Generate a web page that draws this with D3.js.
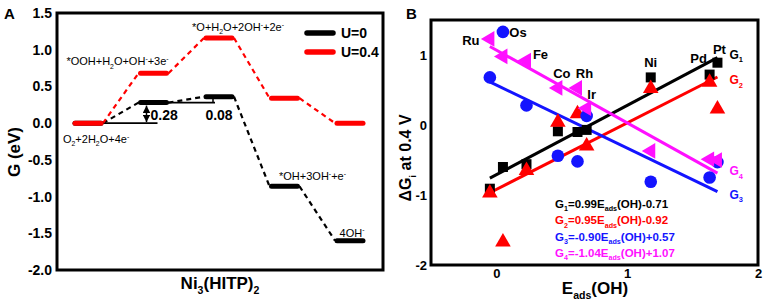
<!DOCTYPE html>
<html>
<head>
<meta charset="utf-8">
<script src="https://cdn.jsdelivr.net/npm/d3@7"></script>
<style>
  body { margin: 0; background: #fff; }
  text { font-family: Arial, 'Liberation Sans', sans-serif; }
</style>
</head>
<body>
<script>
// ---- panel A data ----
const steps = ['O_2+2H_2O+4e^-', '*OOH+H_2O+OH^-+3e^-', '*O+H_2O+2OH^-+2e^-', '*OH+3OH^-+e^-', '4OH^-'];
const gU0 = [0, 0.28, 0.36, -0.86, -1.60];
const gU04 = [0, 0.68, 1.16, 0.34, 0.0];
const yTicksA = [-2, -1.5, -1, -0.5, 0, 0.5, 1, 1.5];

// ---- panel B data ----
const elements = ['Ru', 'Os', 'Fe', 'Co', 'Rh', 'Ir', 'Ni', 'Pd', 'Pt'];
const eadsOH = [-0.05, 0.05, 0.23, 0.47, 0.62, 0.69, 1.18, 1.63, 1.69];
const g1 = [-0.91, -0.60, -0.56, -0.09, -0.10, -0.07, 0.68, 0.72, 0.89];
const g2 = [-0.97, -1.67, -0.65, 0.04, 0.16, -0.30, 0.52, 0.61, 0.23];
const g3 = [0.68, 1.33, 0.28, -0.44, -0.52, 0.13, -0.81, -0.75, -0.53];
const g4 = [1.23, 0.98, 0.92, 0.53, 0.53, 0.24, -0.37, -0.49, -0.50];
const slopes = [0.99, 0.95, -0.90, -1.04];
const intercepts = [-0.71, -0.92, 0.57, 1.07];
const xTicksB = [0, 1, 2];
const yTicksB = [-2, -1, 0, 1];

const svgWidth = 772;
const svgHeight = 307;
const font = "Arial, 'Liberation Sans', sans-serif";

const svg = d3.select('body')
              .append('svg')
              .attr('width', svgWidth)
              .attr('height', svgHeight);

// text with _x subscripts and ^x superscripts
function rich(sel, str, fs) {
  const parts = str.split(/([_^]\{[^}]*\}|[_^].)/).filter(s => s);
  let shift = 0;
  parts.forEach(p => {
    let kind = null, s = p;
    if (p[0] === '_' || p[0] === '^') { kind = p[0]; s = p.slice(1).replace(/[{}]/g, ''); }
    const target = kind === '_' ? fs * 0.3 : kind === '^' ? -fs * 0.38 : 0;
    sel.append('tspan')
       .attr('dy', target - shift)
       .attr('font-size', kind ? fs * 0.62 : fs)
       .text(s);
    shift = target;
  });
  return sel;
}

// =================== Panel A ===================
const xA = d3.scaleLinear().domain([0, 4]).range([88, 350]);
const yA = d3.scaleLinear().domain([-2, 1.5]).range([270, 13]);
const half = 13;

const gA = svg.append('g');

gA.append('g')
  .attr('transform', 'translate(57,0)')
  .call(d3.axisLeft(yA).tickValues(yTicksA).tickSize(0).tickPadding(5).tickFormat(d => d.toFixed(1)))
  .call(g => g.select('.domain').remove())
  .selectAll('text')
  .attr('font-family', font)
  .attr('font-size', 14)
  .attr('font-weight', 'bold')
  .attr('fill', '#000');

gA.append('rect')
  .attr('x', 57).attr('y', 13)
  .attr('width', 326).attr('height', 257)
  .attr('fill', 'none')
  .attr('stroke', '#000')
  .attr('stroke-width', 3);

svg.append('defs').append('marker')
   .attr('id', 'arr')
   .attr('viewBox', '0 0 10 10')
   .attr('refX', 10).attr('refY', 5)
   .attr('markerWidth', 5).attr('markerHeight', 5)
   .attr('orient', 'auto-start-reverse')
   .append('path')
   .attr('d', 'M0,0 L10,5 L0,10 z')
   .attr('fill', '#000');

// step differences at U=0
gA.append('line')
  .attr('x1', xA(0) + half).attr('x2', xA(1) + 4)
  .attr('y1', yA(gU0[0])).attr('y2', yA(gU0[0]))
  .attr('stroke', '#000').attr('stroke-width', 1.8);
gA.append('line')
  .attr('x1', xA(1) - 7).attr('x2', xA(1) - 7)
  .attr('y1', yA(gU0[0]) - 1).attr('y2', yA(gU0[1]) + 3)
  .attr('stroke', '#000').attr('stroke-width', 1.5)
  .attr('marker-start', 'url(#arr)').attr('marker-end', 'url(#arr)');
gA.append('text')
  .attr('x', xA(1) - 3).attr('y', yA(gU0[0]) - 3)
  .attr('font-size', 14).attr('font-weight', 'bold')
  .text((gU0[1] - gU0[0]).toFixed(2));

gA.append('line')
  .attr('x1', xA(1) + half).attr('x2', xA(2) - 4)
  .attr('y1', yA(gU0[1])).attr('y2', yA(gU0[1]))
  .attr('stroke', '#000').attr('stroke-width', 1.8);
gA.append('line')
  .attr('x1', xA(2) - 6).attr('x2', xA(2) - 6)
  .attr('y1', yA(gU0[1])).attr('y2', yA(gU0[2]))
  .attr('stroke', '#000').attr('stroke-width', 1.5);
gA.append('text')
  .attr('x', xA(2)).attr('y', yA(gU0[1]) + 17)
  .attr('text-anchor', 'middle')
  .attr('font-size', 14).attr('font-weight', 'bold')
  .text((gU0[2] - gU0[1]).toFixed(2));

// dashed connectors and levels
[[gU0, '#000'], [gU04, '#ff0000']].forEach(([vals, color]) => {
  d3.pairs(vals.map((v, i) => [i, v])).forEach(([a, b]) => {
    gA.append('line')
      .attr('x1', xA(a[0]) + half + 2).attr('y1', yA(a[1]))
      .attr('x2', xA(b[0]) - half - 2).attr('y2', yA(b[1]))
      .attr('stroke', color).attr('stroke-width', 2.2)
      .attr('stroke-dasharray', '5,4');
  });
});
[[gU0, '#000'], [gU04, '#ff0000']].forEach(([vals, color]) => {
  gA.selectAll(null)
    .data(vals)
    .enter()
    .append('line')
    .attr('x1', (d, i) => xA(i) - half).attr('x2', (d, i) => xA(i) + half)
    .attr('y1', d => yA(d)).attr('y2', d => yA(d))
    .attr('stroke', color).attr('stroke-width', 5)
    .attr('stroke-linecap', 'round');
});

// state labels
const stepLabelPos = [
  { v: gU0[0], dx: -25, dy: 20, anchor: 'start' },
  { v: gU04[1], dx: -36, dy: -8, anchor: 'middle' },
  { v: gU04[2], dx: 19, dy: -7, anchor: 'middle' },
  { v: gU0[3], dx: 28, dy: -6, anchor: 'middle' },
  { v: gU0[4], dx: 2, dy: -4, anchor: 'middle' }
];
steps.forEach((s, i) => {
  const p = stepLabelPos[i];
  rich(gA.append('text')
         .attr('x', xA(i) + p.dx).attr('y', yA(p.v) + p.dy)
         .attr('text-anchor', p.anchor)
         .attr('font-size', 11), s, 11);
});

// legend
[['U=0', '#000'], ['U=0.4', '#ff0000']].forEach(([t, c], i) => {
  gA.append('line')
    .attr('x1', 307).attr('x2', 333)
    .attr('y1', 33 + i * 19).attr('y2', 33 + i * 19)
    .attr('stroke', c).attr('stroke-width', 5.5)
    .attr('stroke-linecap', 'round');
  gA.append('text')
    .attr('x', 341).attr('y', 38 + i * 19)
    .attr('font-size', 14).attr('font-weight', 'bold')
    .text(t);
});

rich(gA.append('text')
       .attr('transform', 'translate(20,152) rotate(-90)')
       .attr('text-anchor', 'middle')
       .attr('font-weight', 'bold'), 'G (eV)', 17);
rich(gA.append('text')
       .attr('x', 220).attr('y', 289)
       .attr('text-anchor', 'middle')
       .attr('font-weight', 'bold'), 'Ni_3(HITP)_2', 17);
gA.append('text')
  .attr('x', 4).attr('y', 19)
  .attr('font-size', 15).attr('font-weight', 'bold')
  .text('A');

// =================== Panel B ===================
const xB = d3.scaleLinear().domain([-0.5, 2]).range([431, 758]);
const yB = d3.scaleLinear().domain([-2, 1.5]).range([265, 20]);
const gB = svg.append('g');

gB.append('g')
  .attr('transform', 'translate(0,265)')
  .call(d3.axisBottom(xB).tickValues(xTicksB).tickSize(0).tickPadding(4).tickFormat(d3.format('d')))
  .call(g => g.select('.domain').remove())
  .selectAll('text')
  .attr('font-family', font).attr('font-size', 13)
  .attr('font-weight', 'bold').attr('fill', '#000');
gB.append('g')
  .attr('transform', 'translate(431,0)')
  .call(d3.axisLeft(yB).tickValues(yTicksB).tickSize(0).tickPadding(4).tickFormat(d => String(d)))
  .call(g => g.select('.domain').remove())
  .selectAll('text')
  .attr('font-family', font).attr('font-size', 13)
  .attr('font-weight', 'bold').attr('fill', '#000');

gB.append('rect')
  .attr('x', 431).attr('y', 20)
  .attr('width', 327).attr('height', 245)
  .attr('fill', 'none')
  .attr('stroke', '#000')
  .attr('stroke-width', 3);

const colors = ['#000000', '#ff0000', '#1414ff', '#ff10ff'];
const seriesB = [g1, g2, g3, g4];
const xExt = d3.extent(eadsOH);

// fitted lines
slopes.forEach((m, k) => {
  gB.append('line')
    .attr('x1', xB(xExt[0])).attr('y1', yB(m * xExt[0] + intercepts[k]))
    .attr('x2', xB(xExt[1])).attr('y2', yB(m * xExt[1] + intercepts[k]))
    .attr('stroke', colors[k]).attr('stroke-width', 3);
});

const symbols = [
  { type: d3.symbolSquare, size: 100, rot: 0 },
  { type: d3.symbolTriangle, size: 105, rot: 0 },
  { type: d3.symbolCircle, size: 125, rot: 0 },
  { type: d3.symbolTriangle, size: 105, rot: -90 }
];
seriesB.forEach((vals, k) => {
  gB.selectAll(null)
    .data(vals)
    .enter()
    .append('path')
    .attr('d', d3.symbol().type(symbols[k].type).size(symbols[k].size))
    .attr('transform', (d, i) => `translate(${xB(eadsOH[i])},${yB(d)}) rotate(${symbols[k].rot})`)
    .attr('fill', colors[k]);
});

// element labels
const elemOffsets = [[-19, 2], [15, 1], [14, -6], [4, -14], [7, -14], [5, -14], [0, -15], [-11, -16], [2, -13]];
elements.forEach((el, i) => {
  const top = d3.max(seriesB, s => s[i]);
  gB.append('text')
    .attr('x', xB(eadsOH[i]) + elemOffsets[i][0])
    .attr('y', yB(top) + elemOffsets[i][1])
    .attr('text-anchor', 'middle')
    .attr('dominant-baseline', 'central')
    .attr('font-size', 13).attr('font-weight', 'bold')
    .text(el);
});

// series labels at line ends
const seriesLabelDy = [1, 7, 7, 2];
slopes.forEach((m, k) => {
  rich(gB.append('text')
         .attr('x', xB(xExt[1]) + 12)
         .attr('y', yB(m * xExt[1] + intercepts[k]) + seriesLabelDy[k])
         .attr('font-weight', 'bold')
         .attr('fill', colors[k]), `G_${k + 1}`, 12);
});

// equations
slopes.forEach((m, k) => {
  const b = intercepts[k];
  const eq = `G_${k + 1}=${m.toFixed(2)}E_{ads}(OH)${b < 0 ? '-' : '+'}${Math.abs(b).toFixed(2)}`;
  rich(gB.append('text')
         .attr('x', 555).attr('y', 208 + k * 16.3)
         .attr('font-weight', 'bold')
         .attr('fill', colors[k]), eq, 11.5);
});

rich(gB.append('text')
       .attr('transform', 'translate(411,158) rotate(-90)')
       .attr('text-anchor', 'middle')
       .attr('font-weight', 'bold'), '\u0394G_i at 0.4 V', 16);
rich(gB.append('text')
       .attr('x', 595).attr('y', 294)
       .attr('text-anchor', 'middle')
       .attr('font-weight', 'bold'), 'E_{ads}(OH)', 17);
gB.append('text')
  .attr('x', 406).attr('y', 19)
  .attr('font-size', 15).attr('font-weight', 'bold')
  .text('B');
</script>
</body>
</html>
